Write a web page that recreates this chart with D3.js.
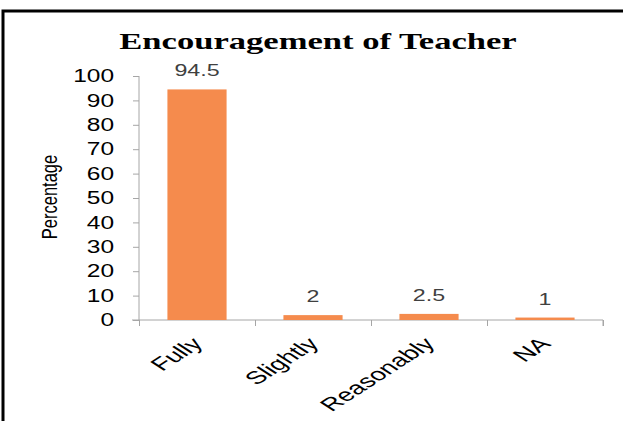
<!DOCTYPE html>
<html>
<head>
<meta charset="utf-8">
<script src="https://cdn.jsdelivr.net/npm/d3@7"></script>
<style>
  body { margin: 0; background: #fff; }
  svg { display: block; }
</style>
</head>
<body>
<svg id="chart"></svg>
<script>
// chart data
var categories = ["Fully", "Slightly", "Reasonably", "NA"];
var percentages = [94.5, 2, 2.5, 1];
var valueLabels = ["94.5", "2", "2.5", "1"];
var yTicks = [0, 10, 20, 30, 40, 50, 60, 70, 80, 90, 100];

var width = 623, height = 421;
var plot = {left: 139, right: 603, top: 76, bottom: 320};
var barColor = "#f58b4d";
var axisColor = "#a6a6a6";

var svg = d3.select("#chart")
    .attr("width", width)
    .attr("height", height);

svg.append("rect")
    .attr("width", width).attr("height", height)
    .attr("fill", "#fff");

// frame (runs off the right and bottom edges)
svg.append("rect")
    .attr("x", 3).attr("y", 11)
    .attr("width", 660).attr("height", 440)
    .attr("fill", "none")
    .attr("stroke", "#000")
    .attr("stroke-width", 3);

// stretch text horizontally, the source picture is widened
function stretch(sel, k) {
    sel.each(function() {
        var len = this.getComputedTextLength();
        d3.select(this)
            .attr("textLength", len * k)
            .attr("lengthAdjust", "spacingAndGlyphs");
    });
}

var title = svg.append("text")
    .text("Encouragement of Teacher")
    .attr("x", 318).attr("y", 49)
    .attr("text-anchor", "middle")
    .attr("font-family", "'Liberation Serif', 'Times New Roman', serif")
    .attr("font-weight", "bold")
    .attr("font-size", "24px")
    .attr("fill", "#000");
stretch(title, 1.44);

var x = d3.scaleBand()
    .domain(categories)
    .range([plot.left, plot.right])
    .paddingInner(0.49)
    .paddingOuter(0.245);

var y = d3.scaleLinear()
    .domain([0, 100])
    .range([plot.bottom, plot.top]);

// y axis
var yAxis = svg.append("g")
    .attr("transform", "translate(" + plot.left + ",0)")
    .call(d3.axisLeft(y).tickValues(yTicks).tickSize(6).tickPadding(19));
yAxis.selectAll("path, line").attr("stroke", axisColor);
yAxis.select(".domain").attr("d", "M0," + plot.top + "V" + plot.bottom);
yAxis.selectAll("text")
    .attr("font-family", "'Liberation Sans', Arial, sans-serif")
    .attr("font-size", "17.5px")
    .attr("fill", "#000")
    .call(stretch, 1.4);

// x axis: ticks at category boundaries
var edges = d3.scaleLinear().domain([0, categories.length]).range([plot.left, plot.right]);
var xAxis = svg.append("g")
    .attr("transform", "translate(0," + plot.bottom + ")")
    .call(d3.axisBottom(edges).tickValues(d3.range(categories.length + 1)).tickSize(6).tickFormat(""));
xAxis.selectAll("path, line").attr("stroke", axisColor);
xAxis.select(".domain").attr("d", "M" + (plot.left - 7) + ",0H" + plot.right + "V6");

// bars
svg.selectAll(".bar")
    .data(percentages)
    .enter()
    .append("rect")
    .attr("class", "bar")
    .attr("x", function(d, i) { return x(categories[i]); })
    .attr("y", function(d) { return y(d); })
    .attr("width", x.bandwidth())
    .attr("height", function(d) { return y(0) - y(d); })
    .attr("fill", barColor);

// value labels
svg.selectAll(".val")
    .data(percentages)
    .enter()
    .append("text")
    .attr("class", "val")
    .text(function(d, i) { return valueLabels[i]; })
    .attr("x", function(d, i) { return x(categories[i]) + x.bandwidth() / 2; })
    .attr("y", function(d) { return y(d) - 13; })
    .attr("text-anchor", "middle")
    .attr("font-family", "'Liberation Sans', Arial, sans-serif")
    .attr("font-size", "16px")
    .attr("fill", "#404040")
    .call(stretch, 1.45);

// category labels, rotated
svg.selectAll(".cat")
    .data(categories)
    .enter()
    .append("g")
    .attr("class", "cat")
    .attr("transform", function(d) {
        return "translate(" + (x(d) + x.bandwidth() / 2 + 7) + "," + (plot.bottom + 25) + ") scale(1.55,1) rotate(-45)";
    })
    .append("text")
    .text(function(d) { return d; })
    .attr("text-anchor", "end")
    .attr("font-family", "'Liberation Sans', Arial, sans-serif")
    .attr("font-size", "18px")
    .attr("fill", "#000");

// y axis title
svg.append("g")
    .attr("transform", "translate(57,197) scale(1.3,1) rotate(-90)")
    .append("text")
    .text("Percentage")
    .attr("text-anchor", "middle")
    .attr("font-family", "'Liberation Sans', Arial, sans-serif")
    .attr("font-size", "16.5px")
    .attr("fill", "#000");
</script>
</body>
</html>
